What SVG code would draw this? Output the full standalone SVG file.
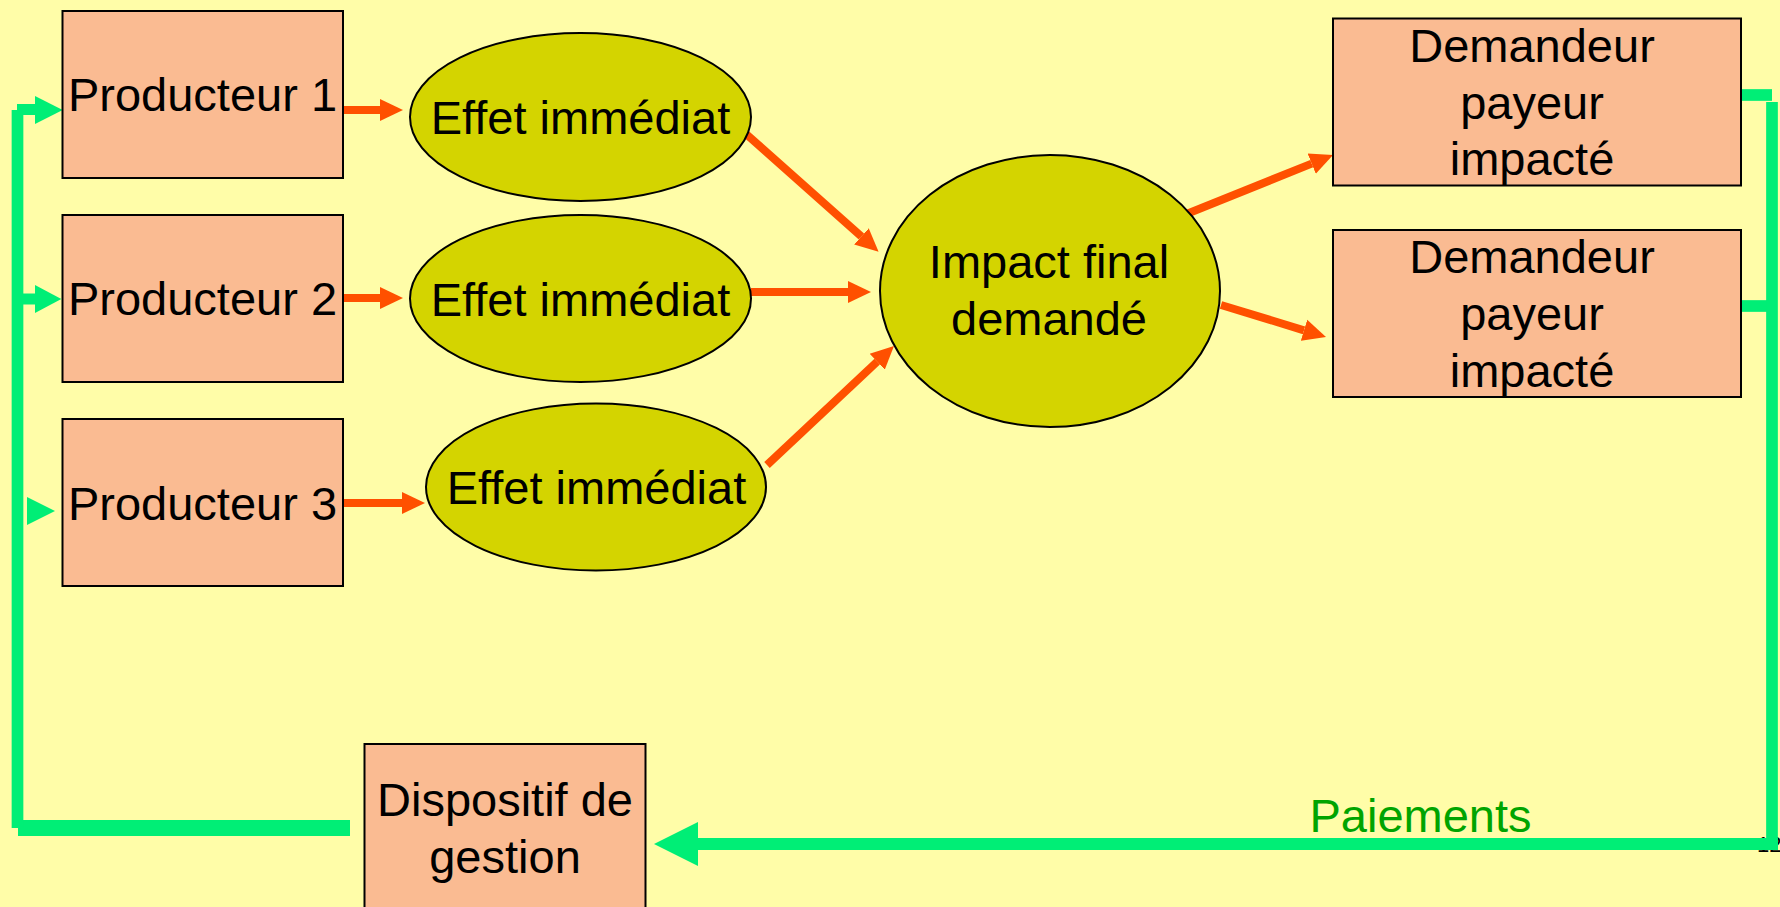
<svg xmlns="http://www.w3.org/2000/svg" width="1780" height="907" viewBox="0 0 1780 907">
<style>
.box{fill:#FABB92;stroke:#000;stroke-width:2}
.ell{fill:#D4D400;stroke:#000;stroke-width:2}
.t{font-family:"Liberation Sans",Arial,sans-serif;font-size:47px;fill:#000;text-anchor:middle}
.or{stroke:#FF5000;stroke-width:8;fill:none}
.gr{stroke:#00EE76;fill:none}
.grf{fill:#00EE76}
</style>
<defs>
<marker id="ah" markerUnits="userSpaceOnUse" markerWidth="24" markerHeight="24" refX="0" refY="11" orient="auto" viewBox="0 0 24 22">
<path d="M0,0 L23,11 L0,22 z" fill="#FF5000"/>
</marker>
</defs>
<rect width="1780" height="907" fill="#FFFDA8"/>
<text x="1757" y="852" style="font-family:'Liberation Sans',Arial,sans-serif;font-size:22px;fill:#000">12</text>

<g id="connectors">
<line class="or" x1="343" y1="110" x2="380" y2="110" marker-end="url(#ah)"/>
<line class="or" x1="343" y1="298" x2="380" y2="298" marker-end="url(#ah)"/>
<line class="or" x1="343" y1="503" x2="402" y2="503" marker-end="url(#ah)"/>
<line class="or" x1="743.5" y1="131.7" x2="861.4" y2="236.4" marker-end="url(#ah)"/>
<line class="or" x1="751" y1="292" x2="848" y2="292" marker-end="url(#ah)"/>
<line class="or" x1="767" y1="465" x2="877.2" y2="361.7" marker-end="url(#ah)"/>
<line class="or" x1="1184" y1="215" x2="1311.7" y2="163.6" marker-end="url(#ah)"/>
<line class="or" x1="1221" y1="305" x2="1304" y2="330.3" marker-end="url(#ah)"/>
<!-- green payment loop -->
<line class="gr" x1="1741" y1="95" x2="1772" y2="95" stroke-width="11.7"/>
<line class="gr" x1="1741" y1="306" x2="1772" y2="306" stroke-width="11.7"/>
<line class="gr" x1="1772" y1="102" x2="1772" y2="850" stroke-width="11.7"/>
<line class="gr" x1="1778" y1="844" x2="696" y2="844" stroke-width="12"/>
<polygon class="grf" points="654,844 698,822 698,866"/>
<line class="gr" x1="350" y1="828" x2="18" y2="828" stroke-width="16"/>
<line class="gr" x1="17.5" y1="110" x2="17.5" y2="828" stroke-width="11.7"/>
<line class="gr" x1="17" y1="109.5" x2="36" y2="109.5" stroke-width="11"/>
<polygon class="grf" points="62.7,110 35,96 35,124"/>
<line class="gr" x1="23" y1="299" x2="36" y2="299" stroke-width="11"/>
<polygon class="grf" points="61.3,299 35,285 35,313"/>
<polygon class="grf" points="55,511 27,497 27,525"/>
<text x="1420.5" y="832" style="font-family:'Liberation Sans',Arial,sans-serif;font-size:47px;fill:#00A400;text-anchor:middle">Paiements</text>
</g>

<g id="producteur1">
<rect class="box" x="62.5" y="11" width="280.5" height="167"/>
<text class="t" x="202.5" y="111">Producteur 1</text>
</g>
<g id="producteur2">
<rect class="box" x="62.5" y="215" width="280.5" height="167"/>
<text class="t" x="202.5" y="315">Producteur 2</text>
</g>
<g id="producteur3">
<rect class="box" x="62.5" y="419" width="280.5" height="167"/>
<text class="t" x="202.5" y="520">Producteur 3</text>
</g>

<g id="effet1">
<ellipse class="ell" cx="580.5" cy="117" rx="170.5" ry="84"/>
<text class="t" x="580.5" y="134">Effet immédiat</text>
</g>
<g id="effet2">
<ellipse class="ell" cx="580.5" cy="298.5" rx="170.5" ry="83.5"/>
<text class="t" x="580.5" y="315.5">Effet immédiat</text>
</g>
<g id="effet3">
<ellipse class="ell" cx="596" cy="487" rx="170" ry="83.5"/>
<text class="t" x="596.5" y="504">Effet immédiat</text>
</g>

<g id="impact">
<ellipse class="ell" cx="1050" cy="291" rx="170" ry="136"/>
<text class="t" x="1049" y="278">Impact final</text>
<text class="t" x="1049" y="335">demandé</text>
</g>

<g id="demandeur1">
<rect class="box" x="1333" y="18.5" width="408" height="167"/>
<text class="t" x="1532" y="61.7">Demandeur</text>
<text class="t" x="1532" y="118.5">payeur</text>
<text class="t" x="1532" y="175">impacté</text>
</g>
<g id="demandeur2">
<rect class="box" x="1333" y="230" width="408" height="167"/>
<text class="t" x="1532" y="273.3">Demandeur</text>
<text class="t" x="1532" y="330">payeur</text>
<text class="t" x="1532" y="386.7">impacté</text>
</g>

<g id="dispositif">
<rect class="box" x="364.5" y="744" width="281" height="180"/>
<text class="t" x="505" y="815.7">Dispositif de</text>
<text class="t" x="505" y="873">gestion</text>
</g>
</svg>
